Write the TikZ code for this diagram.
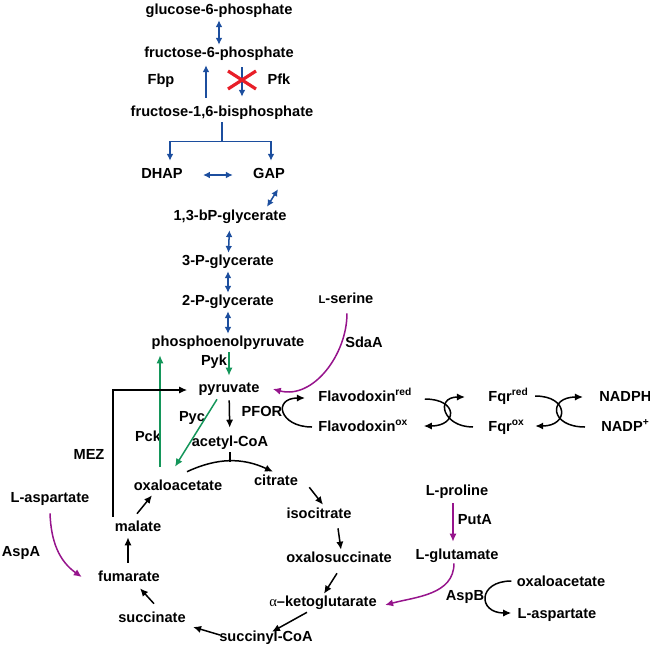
\documentclass[tikz,border=0pt]{standalone}
\usepackage{fontspec}
\setmainfont{Liberation Sans}
\newfontfamily\greekserif{Liberation Serif}
\usetikzlibrary{arrows.meta,calc}
\definecolor{glyblue}{RGB}{28,78,158}
\definecolor{anagreen}{RGB}{20,150,90}
\definecolor{aapurple}{RGB}{150,20,140}
\definecolor{blockred}{RGB}{232,30,40}
\tikzset{
  >={Latex[length=4pt,width=3.6pt]},
  met/.style={font=\bfseries\fontsize{7.3}{8}\selectfont,inner sep=1pt,
    text height=5.4pt,text depth=1.5pt},
  enz/.style={met},
  flux/.style={line width=0.75pt,->},
  glyflux/.style={flux,glyblue,{<[length=3.4pt,width=3.4pt]}-{>[length=3.4pt,width=3.4pt]}},
  glyone/.style={flux,glyblue,-{>[length=3.4pt,width=3.4pt]}},
  anaflux/.style={flux,anagreen},
  aaflux/.style={flux,aapurple},
}
\begin{document}
\begin{tikzpicture}[x=0.5pt,y=-0.5pt]
  \useasboundingbox (0,0) rectangle (650,650);
  % glycolysis / gluconeogenesis
  \node[met] (g6p) at (219,11) {glucose-6-phosphate};
  \node[met] (f6p) at (219,54) {fructose-6-phosphate};
  \node[met] (f16bp) at (222,113) {fructose-1,6-bisphosphate};
  \node[met] (dhap) at (162,175) {DHAP};
  \node[met] (gap) at (269,175) {GAP};
  \node[met] (bpg) at (230,217) {1,3-bP-glycerate};
  \node[met] (pg3) at (228,262) {3-P-glycerate};
  \node[met] (pg2) at (228,302) {2-P-glycerate};
  \node[met] (pep) at (228,343) {phosphoenolpyruvate};
  \node[met] (pyr) at (229,389) {pyruvate};
  \node[met] (accoa) at (230,443) {acetyl-CoA};
  \node[met] (serine) at (346,300) {{\fontsize{5.6}{6}\selectfont L}-serine};
  % TCA cycle
  \node[met] (oaa) at (178,487) {oxaloacetate};
  \node[met] (citrate) at (276,482) {citrate};
  \node[met] (isocit) at (319,515) {isocitrate};
  \node[met] (oxsucc) at (339,559) {oxalosuccinate};
  \node[met] (akg) at (323,603) {{\greekserif\fontseries{m}\selectfont α}–ketoglutarate};
  \node[met] (succoa) at (266,638) {succinyl-CoA};
  \node[met] (succ) at (152,619) {succinate};
  \node[met] (fum) at (129,578) {fumarate};
  \node[met] (mal) at (138,528) {malate};
  \node[met] (aspleft) at (50,499) {L-aspartate};
  \node[met] (pro) at (457,492) {L-proline};
  \node[met] (glu) at (457,556) {L-glutamate};
  \node[met] (oaaright) at (561,583) {oxaloacetate};
  \node[met] (aspright) at (557,615) {L-aspartate};
  % electron carriers
  \node[met,anchor=west] (fldred) at (316,398) {Flavodoxin\textsuperscript{red}};
  \node[met,anchor=west] (fldox) at (316,428) {Flavodoxin\textsuperscript{ox}};
  \node[met,anchor=west] (fqrred) at (486,398) {Fqr\textsuperscript{red}};
  \node[met,anchor=west] (fqrox) at (486,428) {Fqr\textsuperscript{ox}};
  \node[met,anchor=west] (nadph) at (597,398) {NADPH};
  \node[met,anchor=west] (nadp) at (599,428) {NADP\textsuperscript{+}};
  % enzymes
  \node[enz] (fbp) at (161,81) {Fbp};
  \node[enz] (pfk) at (279,81) {Pfk};
  \node[enz] (pyk) at (214,362) {Pyk};
  \node[enz] (pyc) at (192,418) {Pyc};
  \node[enz] (pck) at (148,438) {Pck};
  \node[enz] (mez) at (89,456) {MEZ};
  \node[enz] (pfor) at (262,413) {PFOR};
  \node[enz] (sdaa) at (364,344) {SdaA};
  \node[enz] (aspa) at (21,553) {AspA};
  \node[enz] (puta) at (475,521) {PutA};
  \node[enz] (aspb) at (465,597) {AspB};

  \draw[glyflux] (g6p) -- (f6p);
  \draw[glyone] ($(f16bp.north)+(-16,-6)$) -- ($(f6p.south)+(-13,2)$);
  \draw[glyone] ($(f6p.south)+(23,4)$) -- ($(f16bp.north)+(20,-7)$);
  \draw[blockred,line width=1.6pt] (228,71) -- (256,89) (228,89) -- (256,71);
  \draw[line width=0.75pt,glyblue] (f16bp.south) -- ++(0,19) coordinate (fork);
  \draw[glyone] (fork) -| ($(dhap.north)+(8,-5)$);
  \draw[glyone] (fork) -| ($(gap.north)+(2,-5)$);
  \draw[glyflux,shorten <=9pt,shorten >=9pt] (dhap) -- (gap);
  \draw[glyflux] ($(gap.south)+(9,5)$) -- ($(bpg.north)+(37,-1)$);
  \draw[glyflux,shorten <=2pt] (bpg) -- (pg3);
  \draw[glyflux] (pg3) -- (pg2);
  \draw[glyflux] (pg2) -- (pep);
  \draw[anaflux,shorten >=2pt] ($(pep.south)+(1,0)$) -- (pyr);
  \draw[anaflux] ($(oaa.north)+(-18,-11)$) -- ($(pep.south)+(-68,3)$);
  \draw[anaflux] ($(pyr.south)+(-12,1)$) -- ($(oaa.north)+(-3,-11)$);
  \draw[flux] ($(mal.north)+(-25,-2)$) |- ($(pyr.west)+(-9,1)$);
  \draw[flux,shorten <=1pt,shorten >=3pt] (pyr) -- (accoa);
  \draw[line width=0.75pt] (accoa.south) -- ++(0,10);
  \draw[flux] ($(oaa.north)+(9,-6)$) to[out=25,in=155] ($(citrate.north)+(-3,-1)$);
  \draw[aaflux] ($(serine.south)+(1,4)$) to[out=-90,in=-15] ($(pyr.east)+(11,0)$);
  % PFOR and coupled redox carriers
  \draw[flux] ($(fldox.west)+(-4,-1)$) to[out=180,in=180,looseness=2.8] ($(fldred.west)+(-11,0)$);
  \draw[flux] ($(fldred.east)+(10,1)$) to[out=0,in=0,looseness=3.2] ($(fldox.east)+(13,-2)$);
  \draw[flux] ($(fqrox.west)+(-13,-1)$) to[out=180,in=180,looseness=2.5] ($(fqrred.west)+(-21,-1)$);
  \draw[flux] ($(fqrred.east)+(4,-2)$) to[out=0,in=0,looseness=2.9] ($(fqrox.east)+(8,-2)$);
  \draw[flux] ($(nadp.west)+(-14,-1)$) to[out=180,in=180,looseness=3] ($(nadph.west)+(-14,-1)$);
  % TCA cycle
  \draw[flux] ($(citrate.south east)+(9,-4)$) -- ($(isocit.north)+(4,-1)$);
  \draw[flux] ($(isocit.south)+(19,4)$) -- ($(oxsucc.north)+(2,0)$);
  \draw[flux] ($(oxsucc.south)+(-2,5)$) -- ($(akg.north)+(1,0)$);
  \draw[flux] ($(akg.south)+(-16,0)$) -- ($(succoa.north)+(6,3)$);
  \draw[flux] ($(succoa.west)+(3,-3)$) -- ($(succ.east)+(5,8)$);
  \draw[flux] ($(succ.north)+(2,-6)$) -- ($(fum.south)+(11,1)$);
  \draw[flux] ($(fum.north)+(-1,-6)$) -- ($(mal.south)+(-10,0)$);
  \draw[flux] ($(mal.north)+(-1,-5)$) -- ($(oaa.south)+(-26,-1)$);
  % amino acid entry points
  \draw[aaflux] ($(aspleft.south)+(0,5)$) to[out=-88,in=145] ($(fum.west)+(-14,-1)$);
  \draw[aaflux] ($(pro.south)+(-4,2)$) -- ($(glu.north)+(-4,-5)$);
  \draw[aaflux] ($(glu.south)+(-3,-2)$) to[out=-90,in=15] ($(akg.east)+(6,2)$);
  \draw[flux] ($(oaaright.west)+(-3,-2)$) to[out=180,in=180,looseness=2.7] ($(aspright.west)+(-4,-2)$);
\end{tikzpicture}
\end{document}
